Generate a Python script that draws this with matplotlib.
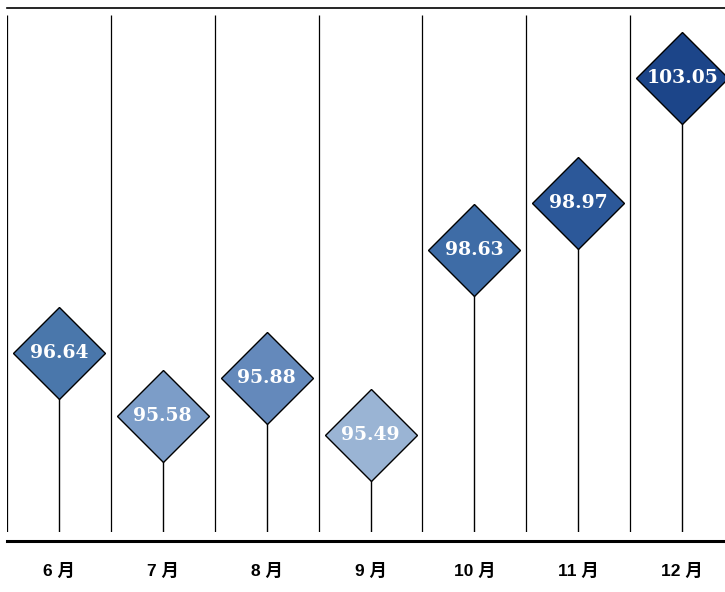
import matplotlib
matplotlib.use("Agg")
import matplotlib.pyplot as plt
from matplotlib.transforms import blended_transform_factory

plt.rcParams['font.family'] = ['Liberation Sans', 'Noto Sans CJK SC', 'DejaVu Sans']

# data
months = ["6 月", "7 月", "8 月", "9 月", "10 月", "11 月", "12 月"]
values = [96.64, 95.58, 95.88, 95.49, 98.63, 98.97, 103.05]
# where each diamond sits on the chart's (hidden) vertical scale
heights = [96.65, 95.28, 96.11, 94.88, 98.85, 99.86, 102.55]
colors = ["#4a77ab", "#7c9dc8", "#6489bb", "#9ab4d4", "#3e6ca6", "#2c5899", "#1c4589"]

W, H = 725, 592
fig = plt.figure(figsize=(W / 100, H / 100), dpi=100)
# plot area: x 7px -> ~734px (right edge runs off the figure), y 15px -> 532px
ax = fig.add_axes([7 / W, 60 / H, 727 / W, 517 / H])
ax.set_xlim(-0.5, len(months) - 0.5)
ax.set_ylim(92.8, 103.9)
for s in ax.spines.values():
    s.set_visible(False)
ax.set_yticks([])

ymin, ymax = ax.get_ylim()
# category separators
ax.vlines([i - 0.5 for i in range(len(months))], ymin, ymax, color="black", lw=0.9)
# stems
ax.vlines(range(len(months)), ymin, heights, color="black", lw=1.0)

for i, (v, h, c) in enumerate(zip(values, heights, colors)):
    ax.plot(i, h, marker="D", markersize=47, color=c, markeredgecolor="black",
            markeredgewidth=1.0, zorder=3)
    ax.text(i, h, f"{v:.2f}", ha="center", va="center", color="white",
            fontsize=13.5, fontweight="bold", family="DejaVu Serif", zorder=4)

# top thin rule and bottom thick rule
tr = blended_transform_factory(ax.transAxes, ax.transAxes)
ax.plot([0, 1], [1 + 7 / 517, 1 + 7 / 517], transform=tr, color="black", lw=1.2, clip_on=False)
ax.plot([0, 1], [-9 / 517, -9 / 517], transform=tr, color="black", lw=2.2, clip_on=False)

ax.set_xticks(range(len(months)))
ax.set_xticklabels(months, fontsize=12.5, fontweight="bold")
ax.tick_params(axis="x", length=0, pad=22)

fig.savefig("out.png", dpi=100)
